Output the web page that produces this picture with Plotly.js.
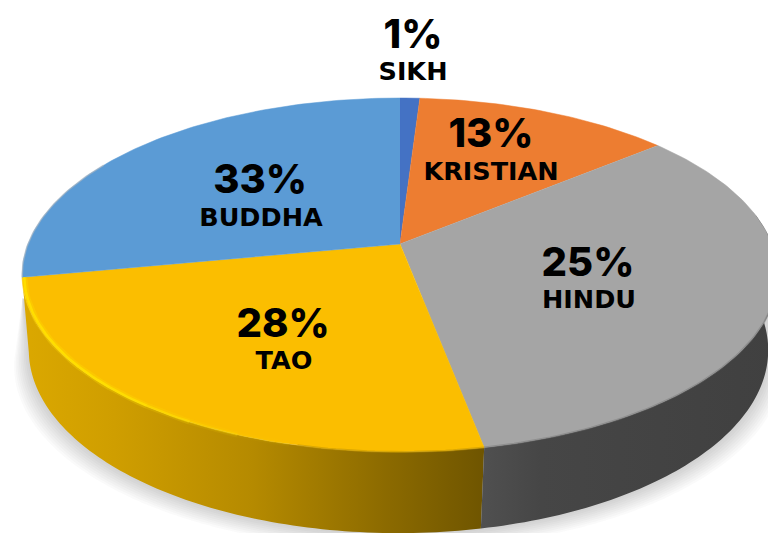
<!DOCTYPE html>
<html><head><meta charset="utf-8">
<script src="https://cdn.plot.ly/plotly-3.0.1.min.js"></script>
<style>html,body{margin:0;padding:0;background:#fff}#c{width:768px;height:533px}</style>
</head><body><div id="c"></div>
<script>
// ---- data ----
// order is clockwise from 12 o'clock
const categories   = ['SIKH', 'KRISTIAN', 'HINDU', 'TAO', 'BUDDHA'];
const labelPercent = ['1%', '13%', '25%', '28%', '33%'];   // text printed on the chart
const wedgeSize    = [1, 13, 33, 25, 28];                  // sizes of the wedges as drawn
const topColors    = ['#4472C4', '#ED7D31', '#A5A5A5', '#FBBE00', '#5B9BD5'];

// ---- projection of the tilted disc into the picture's axes ----
const K = 0.175;
const TOP = {cx: 400, cy: 244, b: 128.85, c: 372};
const BOTTOM = {cx: 398.5, cy: 318, b: 121.8, c: 364};
function project(deg, d, grow, drop) {
  const t = deg * Math.PI / 180, u = Math.sin(t), v = Math.cos(t), w = 1 + K * v;
  return [d.cx + (d.c + (grow || 0)) * u / w, (d.cy - d.b * v) / w + (drop || 0)];
}
function arc(from, to, d, grow, drop) {
  const pts = [], n = Math.max(2, Math.ceil(Math.abs(to - from)));
  for (let i = 0; i <= n; i++) pts.push(project(from + (to - from) * i / n, d, grow, drop));
  return pts;
}
const xs = p => p.map(q => q[0]), ys = p => p.map(q => q[1]);

// cumulative angles
const total = wedgeSize.reduce((a, b) => a + b, 0);
const bounds = [0];
wedgeSize.forEach((s, i) => bounds.push(bounds[i] + s / total * 360));
const hinduEnd = bounds[3], taoEnd = bounds[4];

const traces = [];
const base = {type: 'scatter', hoverinfo: 'skip', showlegend: false};

// soft drop shadow, tapering up to the rim at both ends
for (let i = 1; i <= 9; i++) {
  const p = [project(262, TOP, 0, 30)].concat(arc(262, 98, BOTTOM, i * 1.6, i * 1.8), [project(98, TOP, 0, 30)]);
  traces.push({...base, mode: 'none', x: xs(p), y: ys(p), fill: 'toself', fillcolor: 'rgba(90,90,90,0.026)'});
}

// side walls with horizontal gradients
function wall(from, to, scale) {
  const p = arc(from, to, TOP).concat(arc(to, from, BOTTOM));
  traces.push({...base, mode: 'none', x: xs(p), y: ys(p), fill: 'toself',
    fillgradient: {type: 'horizontal', colorscale: scale}});
}
wall(taoEnd, hinduEnd, [[0, '#DBA800'], [0.2, '#CF9E00'], [0.5, '#B58A00'], [0.8, '#8A6900'], [1, '#6F5500']]);
wall(hinduEnd, 80, [[0, '#505050'], [0.2, '#464646'], [1, '#404040']]);

// top face wedges
wedgeSize.forEach((s, i) => {
  const p = [[TOP.cx, TOP.cy / 1]].concat(arc(bounds[i], bounds[i + 1], TOP));
  traces.push({...base, mode: 'lines', x: xs(p), y: ys(p), fill: 'toself', fillcolor: topColors[i],
    line: {color: topColors[i], width: 0.5}, name: categories[i]});
});

// bevel along the front rim
const rimGlow = [1, 1, 1, 1, 1, 0.9, 0.65, 0.35, 0.12];
rimGlow.forEach((a, i) => {
  const st = (taoEnd - hinduEnd) * 0.72 / rimGlow.length;
  const p = arc(taoEnd - i * st, taoEnd - (i + 1) * st, TOP, -2);
  traces.push({...base, mode: 'lines', x: xs(p), y: ys(p), line: {color: 'rgba(255,226,0,' + (a * 0.3) + ')', width: 6}});
  traces.push({...base, mode: 'lines', x: xs(p), y: ys(p), line: {color: 'rgba(255,226,0,' + (a * 0.85) + ')', width: 2.5}});
});
const gr = arc(hinduEnd, 98, TOP, 0, 0);
traces.push({...base, mode: 'lines', x: xs(gr), y: ys(gr), line: {color: 'rgba(110,110,110,0.4)', width: 2}});
const yr = arc(hinduEnd, hinduEnd + 24, TOP);
traces.push({...base, mode: 'lines', x: xs(yr), y: ys(yr), line: {color: 'rgba(190,145,0,0.5)', width: 2}});
const backRim = arc(taoEnd, 300, TOP);
traces.push({...base, mode: 'lines', x: xs(backRim), y: ys(backRim), line: {color: 'rgba(170,180,190,0.6)', width: 1.5}});

// labels
const percentAt = [[413, 38], [491, 137], [588, 266], [283, 327], [260, 183]];
const nameAt    = [[413, 74], [491, 174], [589, 302], [284, 363], [261, 220]];
traces.push({...base, mode: 'text', x: percentAt.map(p => p[0]), y: percentAt.map(p => p[1]), text: labelPercent,
  textposition: 'middle center', textfont: {family: 'Inter, "DejaVu Sans", sans-serif', size: 40, color: '#000', weight: 800}});
traces.push({...base, mode: 'text', x: nameAt.map(p => p[0]), y: nameAt.map(p => p[1]), text: categories,
  textposition: 'middle center', textfont: {family: '"DejaVu Sans", sans-serif', size: 25.5, color: '#000', weight: 700}});

const layout = {
  width: 768, height: 533, margin: {l: 0, r: 0, t: 0, b: 0},
  paper_bgcolor: '#fff', plot_bgcolor: '#fff', showlegend: false,
  xaxis: {range: [0, 768], visible: false, fixedrange: true},
  yaxis: {range: [533, 0], visible: false, fixedrange: true}
};
Plotly.newPlot('c', traces, layout, {staticPlot: true, displayModeBar: false});
</script></body></html>
